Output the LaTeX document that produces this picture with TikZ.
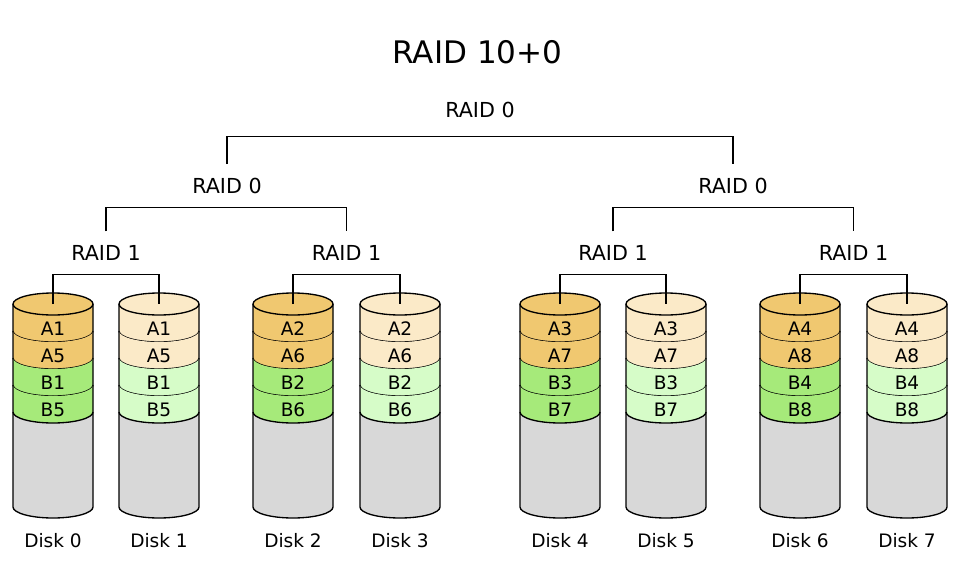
\documentclass[tikz,border=0pt]{standalone}
\usepackage{fontspec}
\setmainfont{DejaVu Sans}
\definecolor{Adark}{RGB}{240,200,112}
\definecolor{Alight}{RGB}{251,234,200}
\definecolor{Bdark}{RGB}{166,234,122}
\definecolor{Blight}{RGB}{214,252,200}
\definecolor{diskgrey}{RGB}{216,216,216}
\begin{document}
\begin{tikzpicture}[x=0.75pt,y=-0.75pt,line width=1pt,
    raid/.style={font=\fontsize{15.5}{18}\selectfont,inner sep=0pt,outer sep=10.5pt},
    cell/.style={font=\fontsize{13.9}{16}\selectfont,inner sep=0pt},
    rx/.style={x radius=30pt,y radius=8.25pt}]
  \useasboundingbox (0,0) rectangle (960,572);
  % the disks
  \foreach \i/\cx/\na/\nb/\tone in {0/53/1/5/dark,1/159/1/5/light,2/293/2/6/dark,3/400/2/6/light,
      4/560/3/7/dark,5/666/3/7/light,6/800/4/8/dark,7/907/4/8/light} {
    \fill[diskgrey] (\cx-40,304) -- (\cx-40,507) arc[start angle=180,end angle=360,rx] -- (\cx+40,304) -- cycle;
    \foreach \k/\lab/\grp in {0/A\na/A,1/A\nb/A,2/B\na/B,3/B\nb/B} {
      \pgfmathsetmacro\yt{304+27*\k}
      \fill[\grp\tone] (\cx-40,\yt) -- (\cx-40,\yt+27) arc[start angle=180,end angle=360,rx]
        -- (\cx+40,\yt) arc[start angle=0,end angle=-180,rx] -- cycle;
      \draw (\cx-40,\yt+27) arc[start angle=180,end angle=360,rx];
      \node[cell] (lab\i\k) at (\cx,\yt+25) {\lab};
    }
    \filldraw[fill=A\tone] (\cx,304) ellipse[rx];
    \draw (\cx-40,304) -- (\cx-40,507) arc[start angle=180,end angle=360,rx] -- (\cx+40,304);
    \coordinate (top\i) at (\cx,304);
    \node[cell] (disk\i) at (\cx,541) {Disk \i};
  }
  % labels
  \node[font=\fontsize{23.3}{28}\selectfont,inner sep=0pt] (title) at (477.5,52) {RAID 10+0};
  \node[raid,outer sep=14pt] (r0) at (480,110) {RAID 0};
  \node[raid] (r00) at (227,186) {RAID 0};
  \node[raid] (r01) at (733,186) {RAID 0};
  \node[raid] (r10) at (106,253) {RAID 1};
  \node[raid] (r11) at (346.5,253) {RAID 1};
  \node[raid] (r12) at (613,253) {RAID 1};
  \node[raid] (r13) at (853.5,253) {RAID 1};
  % brackets
  \draw (r00.north) |- (r0.south) -| (r01.north);
  \draw (r10.north) |- (r00.south) -| (r11.north);
  \draw (r12.north) |- (r01.south) -| (r13.north);
  \draw (top0) |- (r10.south) -| (top1);
  \draw (top2) |- (r11.south) -| (top3);
  \draw (top4) |- (r12.south) -| (top5);
  \draw (top6) |- (r13.south) -| (top7);
\end{tikzpicture}
\end{document}
